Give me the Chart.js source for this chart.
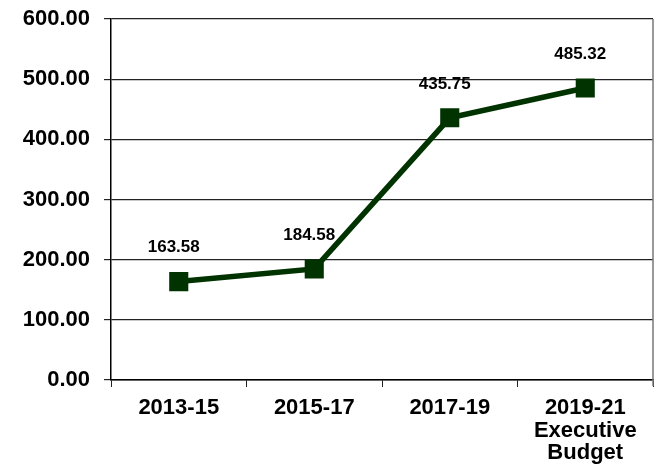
<!DOCTYPE html>
<html>
<head>
<meta charset="utf-8">
<script src="https://cdn.jsdelivr.net/npm/chart.js@4/dist/chart.umd.min.js"></script>
<style>
  html, body { margin: 0; padding: 0; background: #fff; overflow: hidden; }
  #wrap { width: 657px; height: 476px; position: relative; }
</style>
</head>
<body>
<div id="wrap"><canvas id="chart"></canvas></div>
<script>
// data
const periods = [['2013-15'], ['2015-17'], ['2017-19'], ['2019-21', 'Executive', 'Budget']];
const amounts = [163.58, 184.58, 435.75, 485.32];
const yTicks = [0, 100, 200, 300, 400, 500, 600];

const FONT = 'Liberation Sans, Arial, sans-serif';
const GREEN = '#003300';

// draws the value above each point
const valueLabels = {
    id: 'valueLabels',
    afterDatasetsDraw(chart) {
        const ctx = chart.ctx;
        const meta = chart.getDatasetMeta(0);
        ctx.save();
        ctx.font = 'bold 17px ' + FONT;
        ctx.fillStyle = '#000';
        ctx.textAlign = 'center';
        ctx.textBaseline = 'middle';
        meta.data.forEach((pt, i) => {
            ctx.fillText(amounts[i].toFixed(2), pt.x - 5, pt.y - 34);
        });
        ctx.restore();
    }
};

// right border of the plot area
const rightBorder = {
    id: 'rightBorder',
    beforeDatasetsDraw(chart) {
        const { ctx, chartArea } = chart;
        ctx.save();
        ctx.strokeStyle = '#777';
        ctx.lineWidth = 1.5;
        ctx.beginPath();
        ctx.moveTo(chartArea.right, chartArea.top);
        ctx.lineTo(chartArea.right, chartArea.bottom + 6);
        ctx.stroke();
        ctx.restore();
    }
};

new Chart(document.getElementById('chart'), {
    type: 'line',
    data: {
        labels: periods,
        datasets: [{
            data: amounts,
            borderColor: GREEN,
            backgroundColor: GREEN,
            borderWidth: 5.5,
            pointStyle: 'rect',
            pointRadius: 13.5,
            pointHoverRadius: 13.5,
            pointBackgroundColor: GREEN,
            pointBorderColor: GREEN,
            pointBorderWidth: 0,
            tension: 0
        }]
    },
    options: {
        responsive: true,
        maintainAspectRatio: false,
        animation: false,
        layout: { autoPadding: false, padding: { top: 19, right: 4, left: 0, bottom: 0 } },
        plugins: {
            legend: { display: false },
            tooltip: { enabled: false }
        },
        scales: {
            x: {
                offset: true,
                afterFit(scale) {
                    scale.height = 96;
                    scale.paddingLeft = 0;
                    scale.paddingRight = 0;
                },
                grid: {
                    offset: true,
                    drawOnChartArea: false,
                    color: '#222',
                    tickLength: 7
                },
                border: { color: '#000', width: 1.5 },
                ticks: {
                    color: '#000',
                    font: { family: FONT, size: 22, weight: 'bold', lineHeight: 1.02 },
                    maxRotation: 0,
                    padding: 10
                }
            },
            y: {
                min: 0,
                max: 600,
                afterFit(scale) {
                    scale.width = 111;
                    scale.paddingTop = 0;
                    scale.paddingBottom = 0;
                },
                afterBuildTicks(scale) { scale.ticks = yTicks.map(v => ({ value: v })); },
                grid: {
                    color: '#222',
                    lineWidth: 1.2,
                    tickLength: 7
                },
                border: { color: '#000', width: 1.5 },
                ticks: {
                    color: '#000',
                    font: { family: FONT, size: 22, weight: 'bold' },
                    padding: 14,
                    callback: v => v.toFixed(2)
                }
            }
        }
    },
    plugins: [valueLabels, rightBorder]
});
</script>
</body>
</html>
